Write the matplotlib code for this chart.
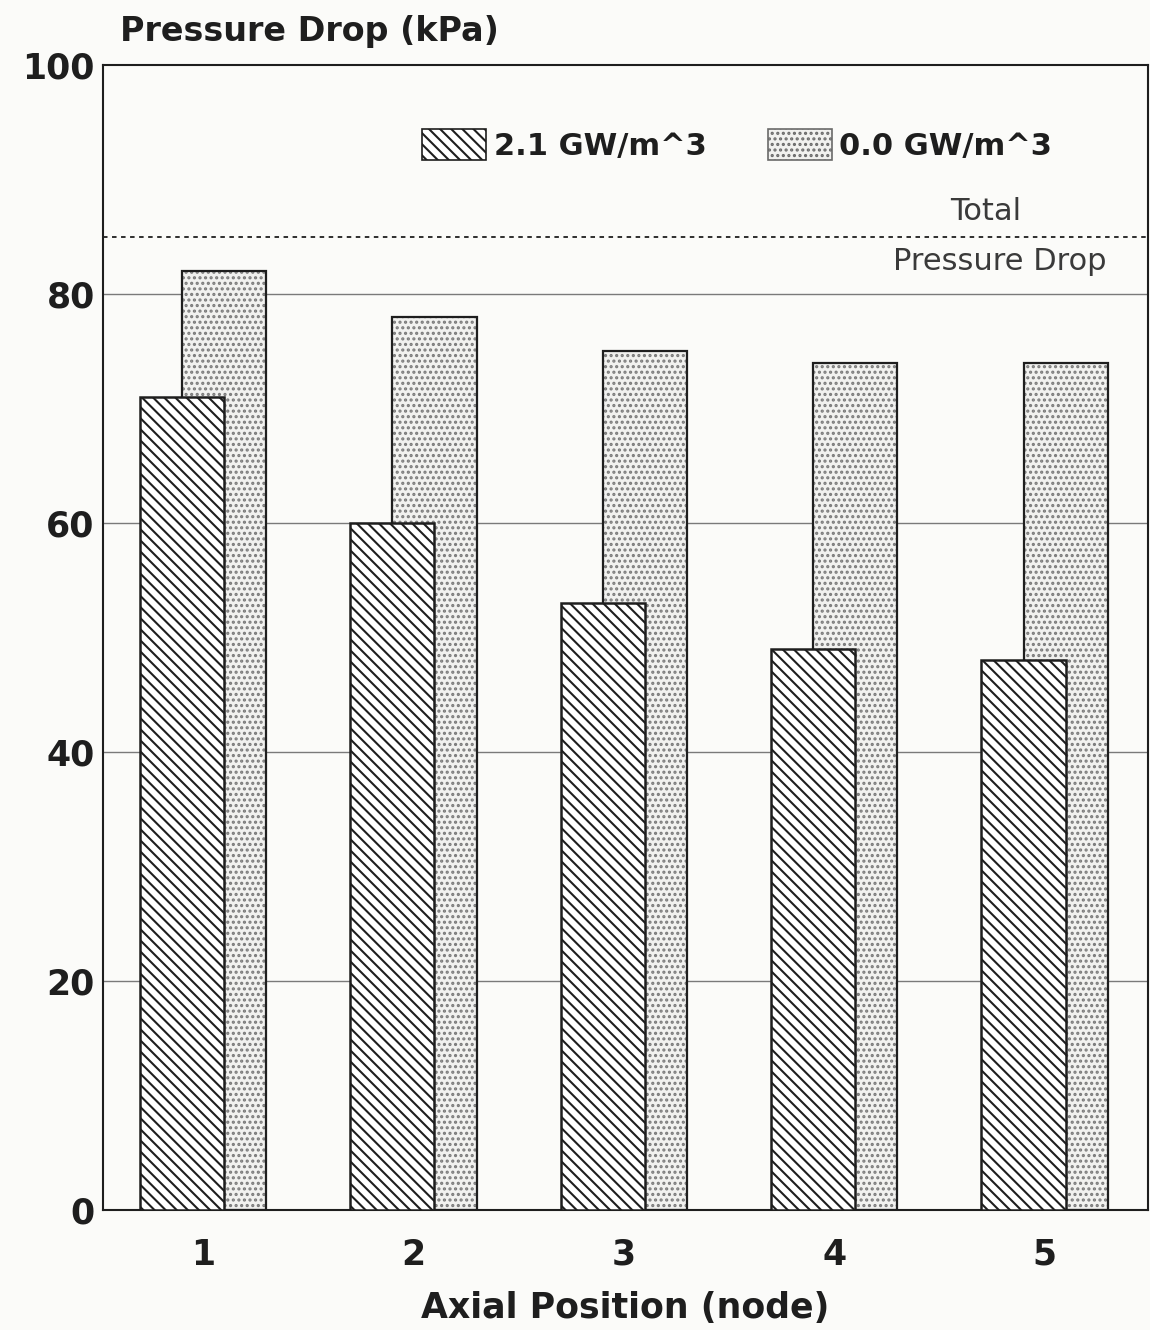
import matplotlib.pyplot as plt
import matplotlib.patches as mpatches
import numpy as np

plt.rcParams['font.family'] = 'DejaVu Sans'
plt.rcParams['hatch.linewidth'] = 1.5

nodes = [1, 2, 3, 4, 5]
dp_heated = [71, 60, 53, 49, 48]     # 2.1 GW/m^3
dp_cold = [82, 78, 75, 74, 74]       # 0.0 GW/m^3
total_dp = 85
labels = ['2.1 GW/m^3', '0.0 GW/m^3']

bg = '#fbfbf9'
ink = '#1e1e1e'
fig = plt.figure(figsize=(11.5, 13.3), dpi=100, facecolor=bg)
ax = fig.add_axes([0.0896, 0.0902, 0.9084, 0.8609])
ax.set_facecolor(bg)

x = np.array(nodes, dtype=float)
w = 0.40

# stippled bars sit behind the hatched ones
ax.bar(x + 0.1, dp_cold, w, color='#f1f1ef', edgecolor='#7a7a7a', hatch='...',
       linewidth=0, zorder=2)
ax.bar(x + 0.1, dp_cold, w, fill=False, edgecolor=ink, linewidth=1.6, zorder=3)
ax.bar(x - 0.1, dp_heated, w, color='white', edgecolor=ink, hatch='\\\\\\',
       linewidth=1.8, zorder=4)

ax.axhline(total_dp, color=ink, linestyle=(0, (2.5, 2.5)), linewidth=1.3, zorder=1)
ax.text(4.72, 87.2, 'Total', ha='center', va='center', fontsize=22, color='#3a3a3a')
ax.text(5.295, 82.8, 'Pressure Drop', ha='right', va='center', fontsize=22,
        color='#3a3a3a')

for y in [20, 40, 60, 80]:
    ax.axhline(y, color='#7a7a7a', linewidth=1.0, zorder=1)

ax.set_xlim(0.525, 5.49)
ax.set_ylim(0, 100)
ax.set_yticks([0, 20, 40, 60, 80, 100])
ax.set_xticks(nodes)
ax.tick_params(length=0, labelsize=25)
ax.tick_params(axis='x', pad=20)
ax.tick_params(axis='y', pad=6)
for t in ax.get_xticklabels() + ax.get_yticklabels():
    t.set_fontweight('bold')
    t.set_color(ink)
for s in ax.spines.values():
    s.set_linewidth(1.5)
    s.set_color(ink)

ax.set_xlabel('Axial Position (node)', fontsize=25, fontweight='bold',
              labelpad=14, color=ink)
fig.text(0.104, 0.976, 'Pressure Drop (kPa)', fontsize=24, fontweight='bold',
         ha='left', va='center', color=ink)

h1 = mpatches.Patch(facecolor='white', edgecolor=ink, hatch='\\\\\\',
                    linewidth=1.2)
h2 = mpatches.Patch(facecolor='#f1f1ef', edgecolor='#6a6a6a', hatch='...',
                    linewidth=1.2)
leg = ax.legend([h1, h2], labels, ncol=2, loc='center', bbox_to_anchor=(0.607, 0.930),
                frameon=False, handlelength=2.1, handleheight=1.15, handletextpad=0.25,
                columnspacing=2.0, prop={'size': 22, 'weight': 'bold'})
for t in leg.get_texts():
    t.set_color(ink)

fig.savefig('out.png', dpi=100, facecolor=bg)
